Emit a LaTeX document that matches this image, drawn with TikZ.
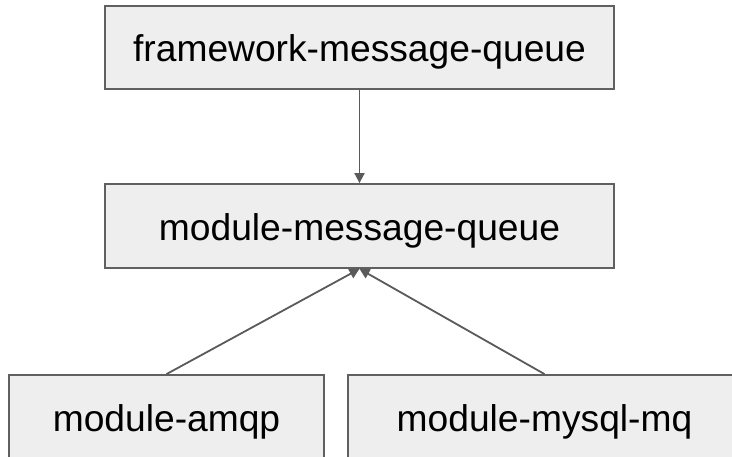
\documentclass[tikz,border=0pt]{standalone}
\usepackage{fontspec}
\setmainfont{Liberation Sans}
\usetikzlibrary{arrows.meta}
\definecolor{boxfill}{HTML}{EEEEEE}
\definecolor{boxline}{HTML}{606060}
\definecolor{linkline}{HTML}{5A5A5A}
\begin{document}
\begin{tikzpicture}[x=1pt,y=-1pt,
  modbox/.style={draw=boxline, fill=boxfill, line width=1.8pt, rectangle,
    inner sep=0pt, text height=30pt, text depth=1pt,
    font=\fontsize{37.2}{44}\selectfont, text=black},
  dep/.style={draw=linkline, line width=1.8pt,
    -{Triangle[width=10pt,length=10pt]}}]
\useasboundingbox (0,0) rectangle (732,457);
\clip (0,0) rectangle (732,457);
\fill[white] (0,0) rectangle (732,457);
% package boxes
\node[modbox, minimum width=509pt, minimum height=83pt] (fw) at (359.5,47.5) {framework-message-queue};
\node[modbox, minimum width=509pt, minimum height=84pt] (mq) at (359.5,226) {module-message-queue};
\node[modbox, minimum width=315pt, minimum height=84pt] (amqp) at (166.5,417) {module-amqp};
\node[modbox, minimum width=393pt, minimum height=84pt] (mysql) at (544.5,417) {module-mysql-mq};
% dependencies
\draw[dep] (fw.south) -- (mq.north);
\draw[dep] (amqp.north) -- (mq.south);
\draw[dep] (mysql.north) -- (mq.south);
\end{tikzpicture}
\end{document}
